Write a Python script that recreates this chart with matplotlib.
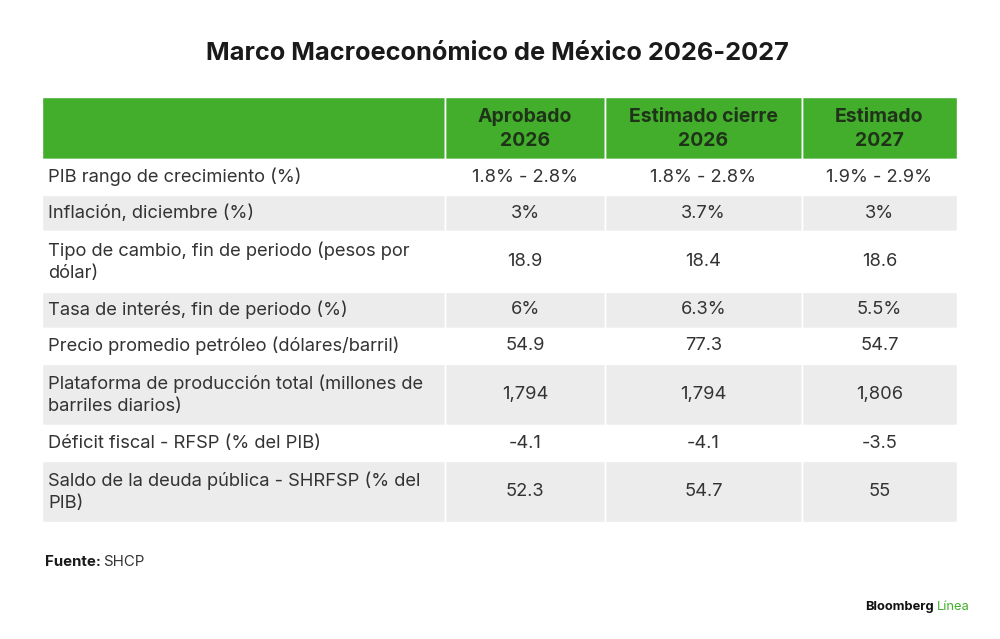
import matplotlib.pyplot as plt
from matplotlib.patches import Rectangle

# -----------------------
# DATA
# -----------------------
TITLE = "Marco Macroeconómico de México 2026-2027"
COLUMNS = ["Aprobado\n2026", "Estimado cierre\n2026", "Estimado\n2027"]
ROW_LABELS = [
    "PIB rango de crecimiento (%)",
    "Inflación, diciembre (%)",
    "Tipo de cambio, fin de periodo (pesos por\ndólar)",
    "Tasa de interés, fin de periodo (%)",
    "Precio promedio petróleo (dólares/barril)",
    "Plataforma de producción total (millones de\nbarriles diarios)",
    "Déficit fiscal - RFSP (% del PIB)",
    "Saldo de la deuda pública - SHRFSP (% del\nPIB)",
]
APROBADO_2026 = ["1.8% - 2.8%", "3%", "18.9", "6%", "54.9", "1,794", "-4.1", "52.3"]
CIERRE_2026 = ["1.8% - 2.8%", "3.7%", "18.4", "6.3%", "77.3", "1,794", "-4.1", "54.7"]
ESTIMADO_2027 = ["1.9% - 2.9%", "3%", "18.6", "5.5%", "54.7", "1,806", "-3.5", "55"]

# -----------------------
# STYLE / LAYOUT (pixels)
# -----------------------
GREEN = '#42ae2c'
HEAD_TXT = '#1f3319'
GREY = '#ececec'
TXT = '#333333'
FONT = ['Inter', 'DejaVu Sans']

COL_EDGES = [42, 445, 605, 802, 957]
HEADER_TOP, HEADER_BOT = 97, 159
ROW_H1, ROW_H2 = 36, 61

fig = plt.figure(figsize=(10, 6.39), dpi=100)
ax = fig.add_axes([0, 0, 1, 1])
ax.set_xlim(0, 1000)
ax.set_ylim(639, 0)
ax.axis('off')

# title
ax.text(497, 53, TITLE, ha='center', va='center', fontsize=18.3,
        fontweight='bold', color='#1a1a1a', family=FONT)

# header
for c in range(len(COL_EDGES) - 1):
    x0, x1 = COL_EDGES[c], COL_EDGES[c + 1]
    ax.add_patch(Rectangle((x0, HEADER_TOP), x1 - x0, HEADER_BOT - HEADER_TOP,
                           facecolor=GREEN, edgecolor='white', linewidth=1))
    if c > 0:
        ax.text((x0 + x1) / 2, (HEADER_TOP + HEADER_BOT) / 2 + 1, COLUMNS[c - 1],
                ha='center', va='center', fontsize=14, fontweight='bold',
                color=HEAD_TXT, family=FONT, linespacing=1.45)

# body
values = list(zip(APROBADO_2026, CIERRE_2026, ESTIMADO_2027))
y = HEADER_BOT
for r, label in enumerate(ROW_LABELS):
    h = ROW_H2 if '\n' in label else ROW_H1
    fill = GREY if r % 2 == 1 else 'white'
    for c in range(len(COL_EDGES) - 1):
        x0, x1 = COL_EDGES[c], COL_EDGES[c + 1]
        ax.add_patch(Rectangle((x0, y), x1 - x0, h, facecolor=fill,
                               edgecolor='white', linewidth=1))
    cy = y + h / 2
    ax.text(COL_EDGES[0] + 6, cy, label, ha='left', va='center', fontsize=13.2,
            color=TXT, family=FONT, linespacing=1.42)
    for c, v in enumerate(values[r]):
        x0, x1 = COL_EDGES[c + 1], COL_EDGES[c + 2]
        ax.text((x0 + x1) / 2, cy, v, ha='center', va='center', fontsize=13.2,
                color=TXT, family=FONT)
    y += h

# column separators (white)
for x in COL_EDGES[1:-1]:
    ax.plot([x, x], [HEADER_TOP, y], color='white', linewidth=1)

# footer
t = ax.text(45, 562, "Fuente:", ha='left', va='center', fontsize=10.8,
            fontweight='bold', color='#1a1a1a', family=FONT)
fig.canvas.draw()
bb = t.get_window_extent().transformed(ax.transData.inverted())
ax.text(bb.x1 + 2, 562, "SHCP", ha='left', va='center', fontsize=10.8,
        color='#333333', family=FONT)

# logo
lg = ax.text(865, 607, "Bloomberg", ha='left', va='center', fontsize=9.3,
             fontweight='bold', color='#111111', family=FONT)
fig.canvas.draw()
bb = lg.get_window_extent().transformed(ax.transData.inverted())
ax.text(bb.x1 + 3, 607, "Línea", ha='left', va='center', fontsize=9.3,
        color=GREEN, family=FONT)

plt.savefig("out.png", dpi=100)
plt.close()
